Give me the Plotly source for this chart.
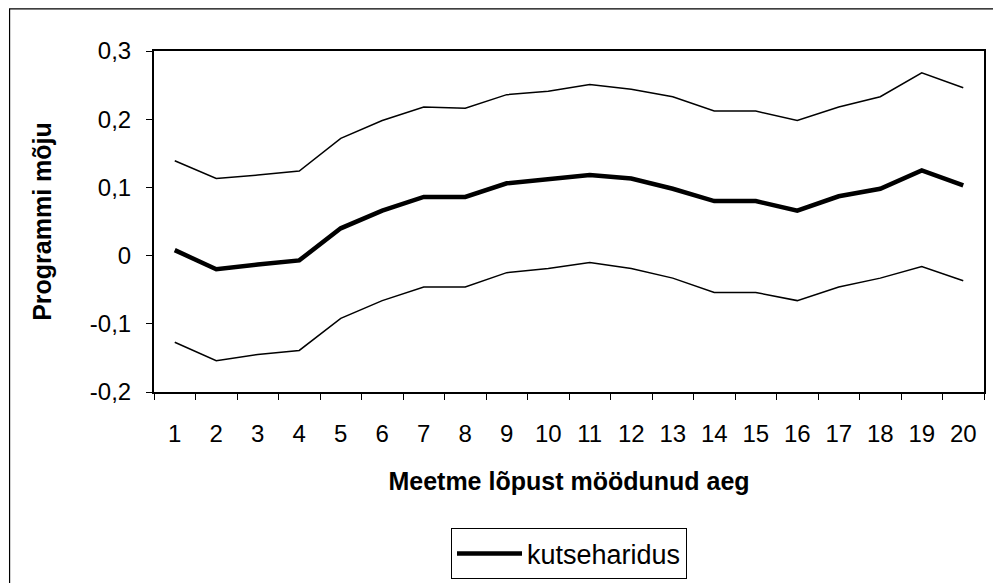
import plotly.graph_objects as go

periods = [str(i) for i in range(1, 21)]
estimate = [0.008, -0.020, -0.013, -0.007, 0.040, 0.066, 0.086, 0.086, 0.106, 0.112,
            0.118, 0.113, 0.098, 0.080, 0.080, 0.066, 0.087, 0.098, 0.125, 0.103]
upper = [0.139, 0.113, 0.118, 0.124, 0.172, 0.198, 0.218, 0.216, 0.236, 0.241,
         0.251, 0.244, 0.233, 0.212, 0.212, 0.198, 0.218, 0.233, 0.268, 0.246]
lower = [-0.127, -0.154, -0.145, -0.139, -0.092, -0.066, -0.046, -0.046, -0.025, -0.019,
         -0.010, -0.019, -0.033, -0.054, -0.054, -0.066, -0.046, -0.033, -0.016, -0.037]
y_ticks = [-0.2, -0.1, 0, 0.1, 0.2, 0.3]
y_tick_labels = ["-0,2", "-0,1", "0", "0,1", "0,2", "0,3"]

FONT = "Liberation Sans, Arial, sans-serif"

fig = go.Figure()
fig.add_trace(go.Scatter(x=periods, y=upper, mode="lines", showlegend=False,
                         line=dict(color="black", width=1.5), hoverinfo="skip"))
fig.add_trace(go.Scatter(x=periods, y=lower, mode="lines", showlegend=False,
                         line=dict(color="black", width=1.5), hoverinfo="skip"))
fig.add_trace(go.Scatter(x=periods, y=estimate, mode="lines", name="kutseharidus",
                         line=dict(color="black", width=4.5)))

# page has an 8px body margin, so the figure is offset by (8, 8)
W, H = 993, 575
L, R, T, B = 145.5, 17, 42.7, 190.7
pw, ph = W - L - R, H - T - B

fig.update_layout(
    width=W, height=H,
    margin=dict(l=L, r=R, t=T, b=B, pad=0, autoexpand=False),
    paper_bgcolor="white", plot_bgcolor="white",
    font=dict(family=FONT, color="black", size=24),
    showlegend=True,
    legend=dict(orientation="h", x=0.5, xanchor="center", y=(384.3 - 521) / ph, yanchor="top",
                bordercolor="black", borderwidth=1, font=dict(size=27, family=FONT),
                bgcolor="white", itemwidth=65),
    xaxis=dict(type="category", categoryorder="array", categoryarray=periods,
               range=[-0.5, len(periods) - 0.5], automargin=False,
               showgrid=False, zeroline=False, showline=True, linecolor="black", linewidth=2,
               mirror=True, ticks="outside", ticklen=6, tickcolor="black", tickwidth=1,
               tickson="boundaries", tickfont=dict(size=24, family=FONT),
               ticklabelstandoff=19,
               title=dict(text="<b>Meetme lõpust möödunud aeg</b>", font=dict(size=25, family=FONT),
                          standoff=27)),
    yaxis=dict(range=[-0.2, 0.3], tickvals=y_ticks, ticktext=y_tick_labels, automargin=False,
               showgrid=False, zeroline=False, showline=True, linecolor="black", linewidth=2,
               mirror=True, ticks="outside", ticklen=6, tickcolor="black", tickwidth=1,
               tickfont=dict(size=24, family=FONT), ticklabelstandoff=10,
               title=dict(text="<b>Programmi mõju</b>", font=dict(size=25, family=FONT),
                          standoff=31)),
    shapes=[dict(type="rect", xref="paper", yref="paper",
                 x0=(1 - L) / pw, x1=(1010 - L) / pw,
                 y0=(384.3 - 600) / ph, y1=1 + (T - 0.6) / ph,
                 line=dict(color="black", width=1.2), fillcolor="rgba(0,0,0,0)", layer="below")],
)

fig.write_html("out.html")
